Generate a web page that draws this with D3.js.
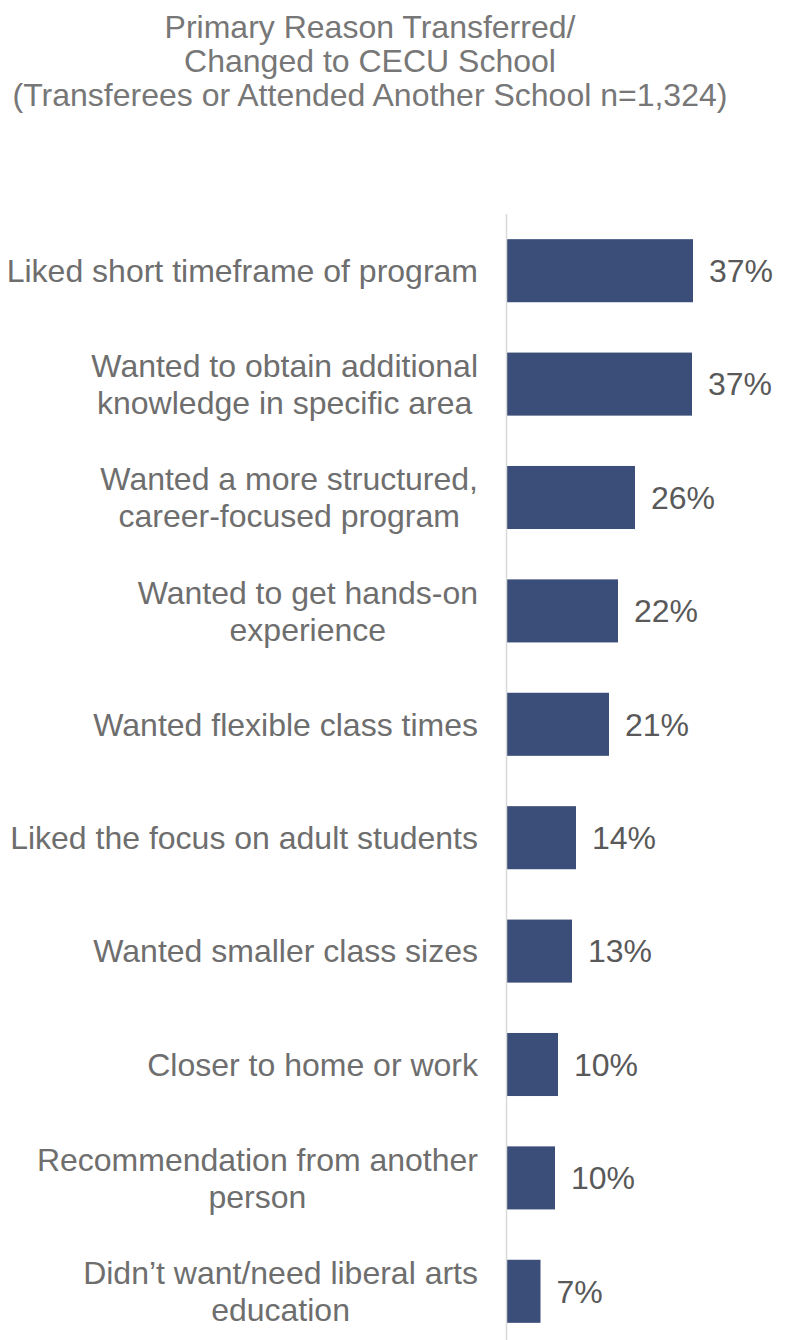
<!DOCTYPE html>
<html>
<head>
<meta charset="utf-8">
<script src="https://cdn.jsdelivr.net/npm/d3@7"></script>
<style>
  html, body { margin: 0; padding: 0; background: #fff; }
  svg { display: block; font-family: "Liberation Sans", Arial, sans-serif; }
</style>
</head>
<body>
<div id="chart"></div>
<script>
const W = 790
const H = 1340

const titleLines = [
  'Primary Reason Transferred/',
  'Changed to CECU School',
  '(Transferees or Attended Another School n=1,324)'
]

const categories = [
  'Liked short timeframe of program',
  'Wanted to obtain additional\nknowledge in specific area',
  'Wanted a more structured,\ncareer-focused program',
  'Wanted to get hands-on\nexperience',
  'Wanted flexible class times',
  'Liked the focus on adult students',
  'Wanted smaller class sizes',
  'Closer to home or work',
  'Recommendation from another\nperson',
  'Didn\u2019t want/need liberal arts\neducation'
]

// bar lengths (labels shown rounded)
const values = [37.2, 37.0, 25.6, 22.2, 20.4, 13.8, 13.0, 10.2, 9.6, 6.7]
const valueLabels = ['37%', '37%', '26%', '22%', '21%', '14%', '13%', '10%', '10%', '7%']

const AXIS_X = 507
const LABEL_RIGHT = 478
const FONT = 32
const LINE_H = 37

const svg = d3.select('#chart').append('svg')
  .attr('width', W).attr('height', H)

// Title
svg.append('g').selectAll('text')
  .data(titleLines)
  .join('text')
  .attr('x', 370)
  .attr('y', (d, i) => 38 + i * 34)
  .attr('text-anchor', 'middle')
  .attr('font-size', 32)
  .attr('fill', '#777777')
  .text(d => d)

const x = d3.scaleLinear().domain([0, 56.6]).range([AXIS_X, W])
const y = d3.scaleBand()
  .domain(d3.range(categories.length))
  .range([214, 1348])
  .paddingInner(0.444)
  .paddingOuter(0.222)

// Bars
svg.append('g').selectAll('rect')
  .data(values)
  .join('rect')
  .attr('x', x(0))
  .attr('y', (d, i) => y(i))
  .attr('width', d => x(d) - x(0))
  .attr('height', y.bandwidth())
  .attr('fill', '#3b4e79')

// Axis line
svg.append('line')
  .attr('x1', AXIS_X - 0.5).attr('x2', AXIS_X - 0.5)
  .attr('y1', y.range()[0]).attr('y2', y.range()[1])
  .attr('stroke', '#d9d9d9').attr('stroke-width', 1.5)

// Value labels
svg.append('g').selectAll('text')
  .data(values)
  .join('text')
  .attr('x', d => x(d) + 16)
  .attr('y', (d, i) => y(i) + y.bandwidth() / 2)
  .attr('dy', '0.35em')
  .attr('font-size', FONT)
  .attr('fill', '#595959')
  .text((d, i) => valueLabels[i])

// Category labels: block right-aligned, lines centred within block
const labelG = svg.append('g')
categories.forEach((cat, i) => {
  const lines = cat.split('\n')
  const cy = y(i) + y.bandwidth() / 2
  const g = labelG.append('g')
  const texts = g.selectAll('text')
    .data(lines)
    .join('text')
    .attr('y', (d, j) => cy + (j - (lines.length - 1) / 2) * LINE_H)
    .attr('dy', '0.35em')
    .attr('font-size', FONT)
    .attr('fill', '#6e6e6e')
    .attr('text-anchor', 'middle')
    .text(d => d)
  const maxW = d3.max(texts.nodes(), n => n.getComputedTextLength())
  texts.attr('x', LABEL_RIGHT - maxW / 2)
})
</script>
</body>
</html>
